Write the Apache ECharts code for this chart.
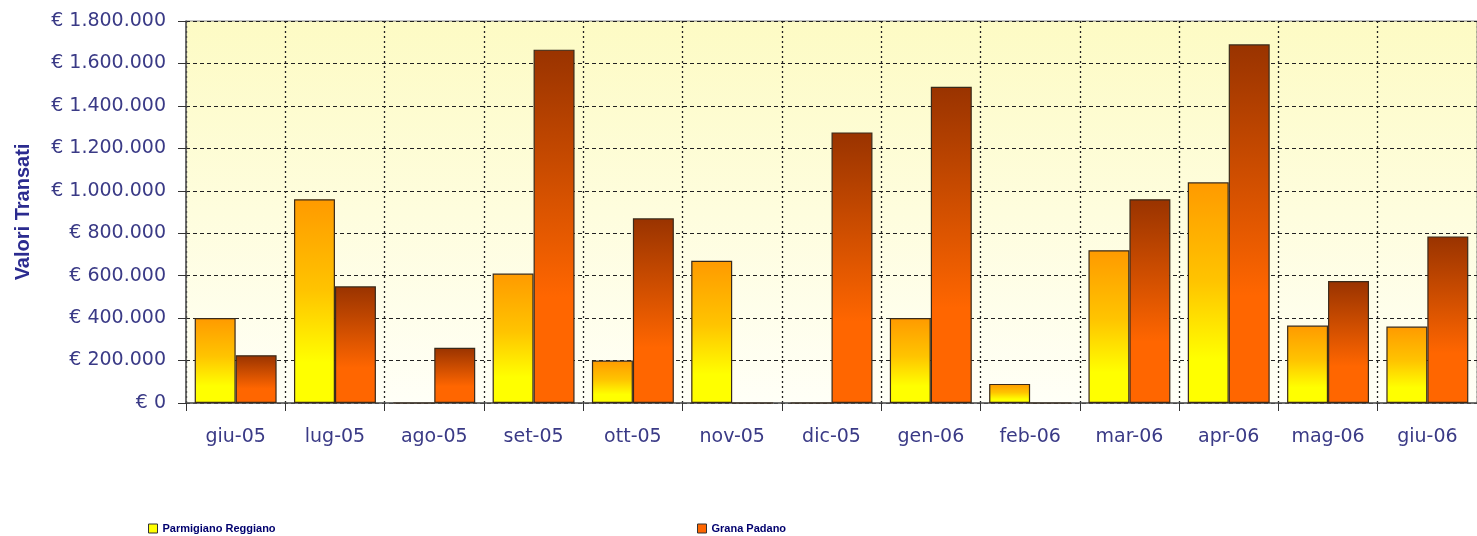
<!DOCTYPE html>
<html>
<head>
<meta charset="utf-8">
<script src="https://cdn.jsdelivr.net/npm/echarts@6/dist/echarts.min.js"></script>
<style>
html,body{margin:0;padding:0;background:#fff;}
#chart{width:1477px;height:536px;}
</style>
</head>
<body>
<div id="chart"></div>
<script>
const categories = ['giu-05','lug-05','ago-05','set-05','ott-05','nov-05','dic-05','gen-06','feb-06','mar-06','apr-06','mag-06','giu-06'];
const parmigiano = [400000, 960000, 0, 610000, 200000, 670000, 0, 400000, 90000, 720000, 1040000, 365000, 360000];
const grana = [225000, 550000, 260000, 1665000, 870000, 0, 1275000, 1490000, 0, 960000, 1690000, 575000, 785000];
const yTicks = { min: 0, max: 1800000, interval: 200000 };
const seriesNames = ['Parmigiano Reggiano', 'Grana Padano'];

function fmtEuro(v) {
  return '€ ' + String(Math.round(v)).replace(/\B(?=(\d{3})+(?!\d))/g, '.');
}

const chart = echarts.init(document.getElementById('chart'));
const labelColor = '#3a3a86';
const font = 'DejaVu Sans, Verdana, sans-serif';
chart.setOption({
  animation: false,
  backgroundColor: '#ffffff',
  grid: {
    left: 186, right: -1, top: 21, bottom: 133,
    show: true,
    borderWidth: 1,
    borderColor: '#888',
    backgroundColor: new echarts.graphic.LinearGradient(0, 0, 0, 1, [
      { offset: 0, color: '#fdfbc4' },
      { offset: 1, color: '#fffff7' }
    ])
  },
  legend: [
    {
      left: 143, top: 518, itemWidth: 9, itemHeight: 9, itemGap: 4,
      icon: 'rect',
      textStyle: { color: '#00006e', fontWeight: 'bold', fontSize: 11, fontFamily: 'Liberation Sans, Arial, sans-serif' },
      data: [{ name: seriesNames[0], itemStyle: { color: '#ffff00', borderColor: '#333', borderWidth: 1 } }]
    },
    {
      left: 692, top: 518, itemWidth: 9, itemHeight: 9, itemGap: 4,
      icon: 'rect',
      textStyle: { color: '#00006e', fontWeight: 'bold', fontSize: 11, fontFamily: 'Liberation Sans, Arial, sans-serif' },
      data: [{ name: seriesNames[1], itemStyle: { color: '#ff6600', borderColor: '#333', borderWidth: 1 } }]
    }
  ],
  xAxis: {
    type: 'category',
    data: categories,
    boundaryGap: true,
    axisLine: { lineStyle: { color: '#555', width: 1.5 } },
    axisTick: { show: true, length: 8, lineStyle: { color: '#333' } },
    axisLabel: { color: labelColor, fontSize: 19, margin: 25, fontFamily: font },
    splitLine: { show: true, lineStyle: { color: '#222', type: [2, 3], width: 1.3 } }
  },
  yAxis: {
    type: 'value',
    min: yTicks.min, max: yTicks.max, interval: yTicks.interval,
    name: 'Valori Transati',
    nameLocation: 'middle',
    nameGap: 153,
    nameTextStyle: { color: '#2b2b8f', fontSize: 20, fontWeight: 'bold', fontFamily: 'Liberation Sans, Arial, sans-serif' },
    axisLine: { show: true, lineStyle: { color: '#555', width: 1.5 } },
    axisTick: { show: true, length: 8, lineStyle: { color: '#333' } },
    axisLabel: { color: labelColor, fontSize: 19, margin: 20, formatter: fmtEuro, fontFamily: font },
    splitLine: { show: true, lineStyle: { color: '#222', type: [4, 3], width: 1.2 } }
  },
  series: [
    {
      name: seriesNames[0],
      type: 'bar',
      data: parmigiano,
      barGap: '0%',
      barCategoryGap: '17.5%',
      itemStyle: {
        borderColor: '#3a2a1a', borderWidth: 1.2,
        color: new echarts.graphic.LinearGradient(0, 0, 0, 1, [
          { offset: 0, color: '#ff9a00' },
          { offset: 0.45, color: '#ffc400' },
          { offset: 0.8, color: '#ffff00' },
          { offset: 1, color: '#ffff00' }
        ])
      }
    },
    {
      name: seriesNames[1],
      type: 'bar',
      data: grana,
      barGap: '0%',
      barCategoryGap: '17.5%',
      itemStyle: {
        borderColor: '#3a2a1a', borderWidth: 1.2,
        color: new echarts.graphic.LinearGradient(0, 0, 0, 1, [
          { offset: 0, color: '#993300' },
          { offset: 0.7, color: '#ff6600' },
          { offset: 1, color: '#ff6600' }
        ])
      }
    }
  ]
});
</script>
</body>
</html>
